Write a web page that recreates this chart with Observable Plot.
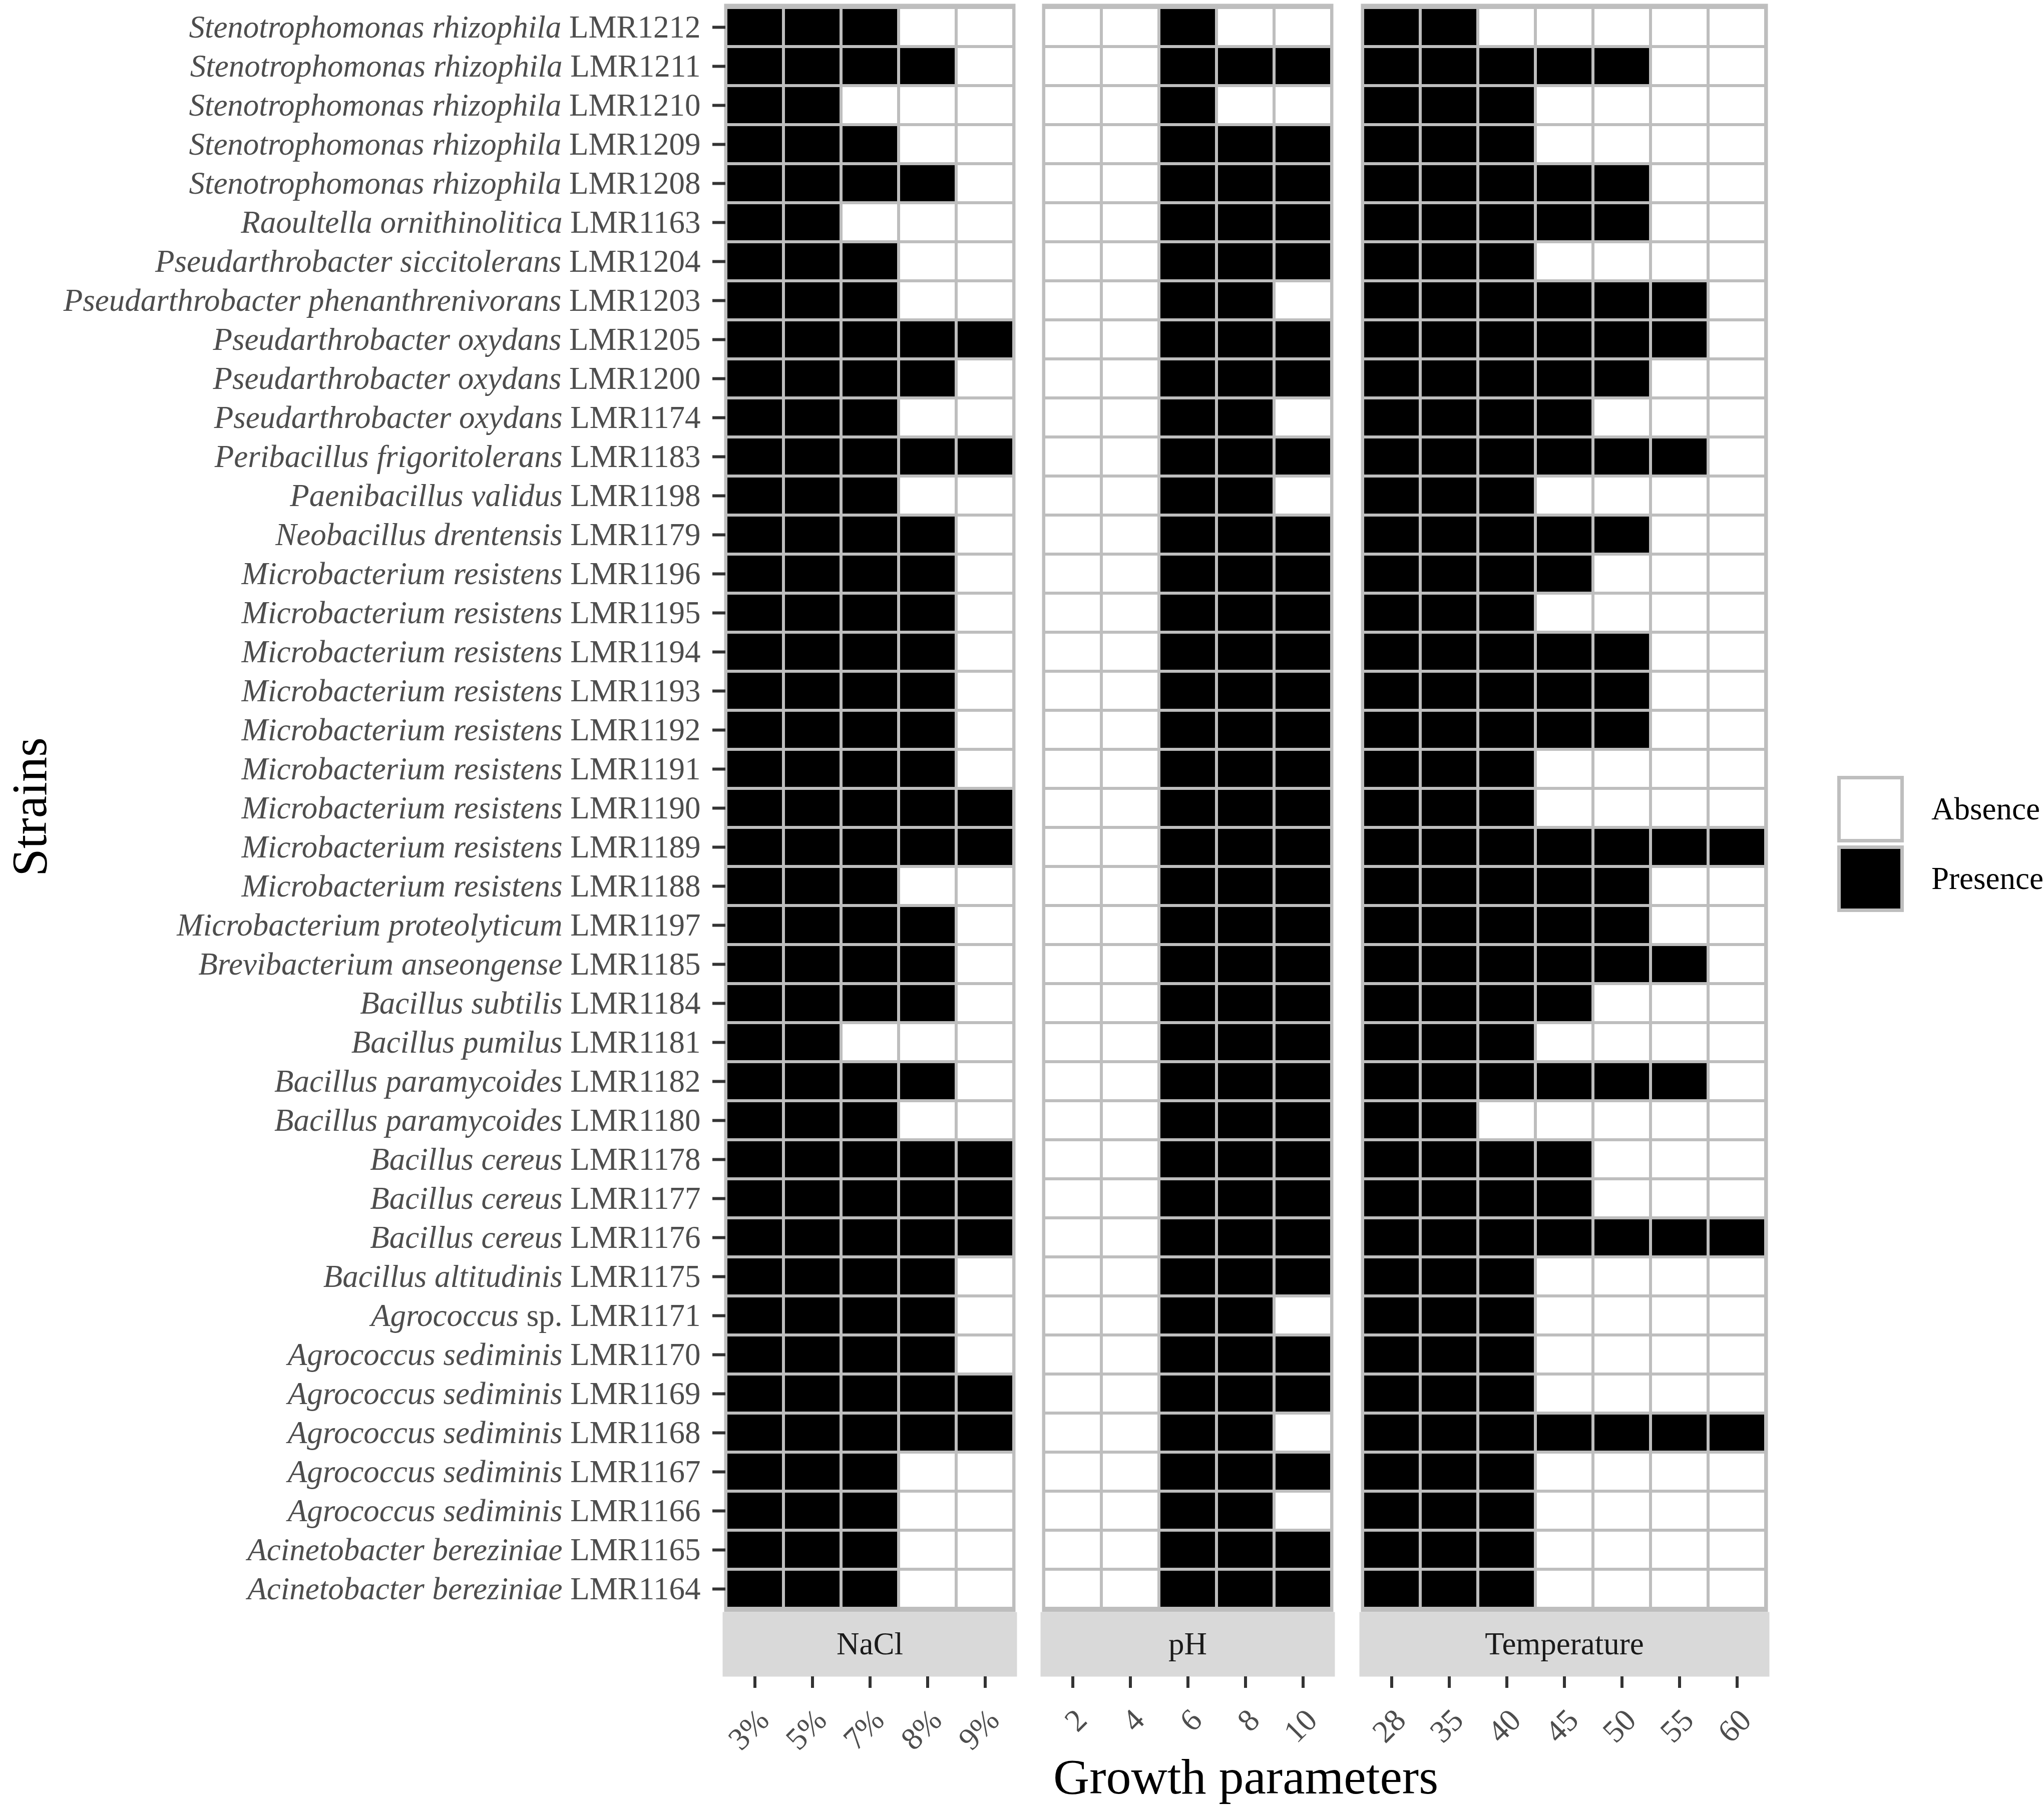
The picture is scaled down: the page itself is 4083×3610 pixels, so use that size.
<!DOCTYPE html>
<html><head><meta charset="utf-8">
<script src="https://cdn.jsdelivr.net/npm/d3@7"></script>
<script src="https://cdn.jsdelivr.net/npm/@observablehq/plot@0.6"></script>
<style>
html,body{margin:0;padding:0;background:#fff;}
#chart{position:relative;width:4083px;height:3610px;font-family:"Liberation Serif","Times New Roman",serif;}
#chart > *{position:absolute;}
</style></head><body><div id="chart"></div>
<script>
// ---------------- data ----------------
const species = [
  "Stenotrophomonas rhizophila","Stenotrophomonas rhizophila","Stenotrophomonas rhizophila","Stenotrophomonas rhizophila","Stenotrophomonas rhizophila",
  "Raoultella ornithinolitica","Pseudarthrobacter siccitolerans","Pseudarthrobacter phenanthrenivorans",
  "Pseudarthrobacter oxydans","Pseudarthrobacter oxydans","Pseudarthrobacter oxydans",
  "Peribacillus frigoritolerans","Paenibacillus validus","Neobacillus drentensis",
  "Microbacterium resistens","Microbacterium resistens","Microbacterium resistens","Microbacterium resistens","Microbacterium resistens",
  "Microbacterium resistens","Microbacterium resistens","Microbacterium resistens","Microbacterium resistens",
  "Microbacterium proteolyticum","Brevibacterium anseongense","Bacillus subtilis","Bacillus pumilus",
  "Bacillus paramycoides","Bacillus paramycoides","Bacillus cereus","Bacillus cereus","Bacillus cereus",
  "Bacillus altitudinis","Agrococcus sp.","Agrococcus sediminis","Agrococcus sediminis","Agrococcus sediminis",
  "Agrococcus sediminis","Agrococcus sediminis","Acinetobacter bereziniae","Acinetobacter bereziniae"
];
const strainIds = [
  "LMR1212","LMR1211","LMR1210","LMR1209","LMR1208","LMR1163","LMR1204","LMR1203","LMR1205","LMR1200","LMR1174",
  "LMR1183","LMR1198","LMR1179","LMR1196","LMR1195","LMR1194","LMR1193","LMR1192","LMR1191","LMR1190","LMR1189",
  "LMR1188","LMR1197","LMR1185","LMR1184","LMR1181","LMR1182","LMR1180","LMR1178","LMR1177","LMR1176","LMR1175",
  "LMR1171","LMR1170","LMR1169","LMR1168","LMR1167","LMR1166","LMR1165","LMR1164"
];
const naclLevels = ["3%","5%","7%","8%","9%"];
const phLevels = ["2","4","6","8","10"];
const tempLevels = ["28","35","40","45","50","55","60"];
const facetNames = ["NaCl","pH","Temperature"];
// 1 = growth (Presence), 0 = no growth (Absence); one string per strain, top to bottom
const naclGrowth = [
  "11100","11110","11000","11100","11110","11000","11100","11100","11111","11110","11100",
  "11111","11100","11110","11110","11110","11110","11110","11110","11110","11111","11111",
  "11100","11110","11110","11110","11000","11110","11100","11111","11111","11111","11110",
  "11110","11110","11111","11111","11100","11100","11100","11100"
];
const phGrowth = [
  "00100","00111","00100","00111","00111","00111","00111","00110","00111","00111","00110",
  "00111","00110","00111","00111","00111","00111","00111","00111","00111","00111","00111",
  "00111","00111","00111","00111","00111","00111","00111","00111","00111","00111","00111",
  "00110","00111","00111","00110","00111","00110","00111","00111"
];
const tempGrowth = [
  "1100000","1111100","1110000","1110000","1111100","1111100","1110000","1111110","1111110","1111100","1111000",
  "1111110","1110000","1111100","1111000","1110000","1111100","1111100","1111100","1110000","1110000","1111111",
  "1111100","1111100","1111110","1111000","1110000","1111110","1100000","1111000","1111000","1111111","1110000",
  "1110000","1110000","1110000","1111111","1110000","1110000","1110000","1110000"
];
const growthLevels = ["Absence","Presence"];
const growthColors = ["white","black"];

// ---------------- layout ----------------
const FONT = '"Liberation Serif", "Times New Roman", serif';
const panelTop = 10, panelBottom = 3217;
const stripTop = 3220, stripH = 129, stripPad = 6;
const gridColor = "#bebebe";
const labels = species.map((s, i) => `${s} ${strainIds[i]}`);

function toCells(levels, rows) {
  return rows.flatMap((r, i) => levels.map((lv, j) => ({strain: labels[i], level: lv, status: growthLevels[+r[j]]})));
}

const panels = [
  {name: facetNames[0], levels: naclLevels, rows: naclGrowth, left: 1449, right: 2025},
  {name: facetNames[1], levels: phLevels, rows: phGrowth, left: 2084, right: 2660},
  {name: facetNames[2], levels: tempLevels, rows: tempGrowth, left: 2721, right: 3528}
];

const chart = document.getElementById("chart");
const baseStyle = {fontFamily: FONT, fontSize: "63px", background: "transparent", overflow: "visible"};

panels.forEach((p, k) => {
  const first = k === 0;
  const cells = toCells(p.levels, p.rows);
  const panel = Plot.plot({
    width: first ? p.right : p.right - p.left,
    height: panelBottom,
    marginTop: panelTop, marginBottom: 0, marginRight: 0,
    marginLeft: first ? p.left : 0,
    style: baseStyle,
    x: {type: "band", domain: p.levels, padding: 0, axis: null},
    y: first ? {type: "band", domain: labels, padding: 0} : {type: "band", domain: labels, padding: 0, axis: null},
    color: {domain: growthLevels, range: growthColors},
    marks: [
      Plot.cell(cells, {x: "level", y: "strain", fill: "status", stroke: gridColor, strokeWidth: 6, inset: 0}),
      Plot.frame({stroke: gridColor, strokeWidth: 6}),
      first ? Plot.axisY({anchor: "left", tickSize: 26, tickPadding: 24, fontSize: 63,
        stroke: "#333333", strokeWidth: 6, fill: "#4d4d4d", label: null}) : null
    ]
  });
  panel.style.left = (first ? 0 : p.left) + "px";
  panel.style.top = "0px";
  chart.appendChild(panel);

  if (first) {
    d3.select(panel).selectAll('g[aria-label="y-axis tick label"] text').each(function() {
      const t = this.textContent;
      const i = labels.indexOf(t);
      if (i < 0) return;
      const sel = d3.select(this);
      sel.text(null);
      species[i].split(" ").forEach((w, j) => {
        sel.append("tspan").attr("font-style", w === "sp." ? "normal" : "italic").text((j ? " " : "") + w);
      });
      sel.append("tspan").attr("font-style", "normal").text(" " + strainIds[i]);
    });
  }

  const strip = Plot.plot({
    width: p.right - p.left + 2 * stripPad,
    height: stripH + 220,
    marginTop: 0, marginBottom: 220, marginLeft: 0, marginRight: 0,
    style: baseStyle,
    x: {type: "band", domain: p.levels, padding: 0, insetLeft: stripPad, insetRight: stripPad},
    marks: [
      Plot.frame({fill: "#d9d9d9"}),
      Plot.text([p.name], {frameAnchor: "middle", fontSize: 63, fill: "#1a1a1a"}),
      Plot.axisX({anchor: "bottom", tickSize: 23, tickPadding: 36, tickRotate: -45,
        textAnchor: "end", lineAnchor: "top", fontSize: 63,
        stroke: "#333333", strokeWidth: 6, fill: "#4d4d4d", label: null})
    ]
  });
  strip.style.left = (p.left - stripPad) + "px";
  strip.style.top = stripTop + "px";
  chart.appendChild(strip);
});

// ---------------- axis titles ----------------
const titles = d3.create("svg").attr("width", 4083).attr("height", 3610)
  .style("left", "0px").style("top", "0px").style("pointer-events", "none")
  .attr("font-family", FONT);
titles.append("text").attr("x", (panels[0].left + panels[2].right) / 2).attr("y", 3583)
  .attr("text-anchor", "middle").attr("font-size", 100).attr("fill", "#000").text("Growth parameters");
titles.append("text").attr("transform", "translate(92,1612) rotate(-90)")
  .attr("text-anchor", "middle").attr("font-size", 100).attr("fill", "#000").text("Strains");
chart.appendChild(titles.node());

// ---------------- legend ----------------
const legend = document.createElement("div");
legend.style.left = "3670px";
legend.style.top = "1550px";
growthLevels.forEach((lv, i) => {
  const row = document.createElement("div");
  row.style.cssText = `position:absolute;left:0;top:${i * 139}px;width:410px;height:133px;`;
  const box = document.createElement("div");
  box.style.cssText = `position:absolute;left:0;top:0;width:133px;height:133px;box-sizing:border-box;border:7px solid ${gridColor};background:${growthColors[i]};`;
  const lab = document.createElement("div");
  lab.style.cssText = `position:absolute;left:188px;top:0;height:133px;line-height:133px;font-size:63px;color:#000;font-family:${FONT};white-space:nowrap;`;
  lab.textContent = lv;
  row.appendChild(box); row.appendChild(lab);
  legend.appendChild(row);
});
chart.appendChild(legend);
</script>
</body></html>
